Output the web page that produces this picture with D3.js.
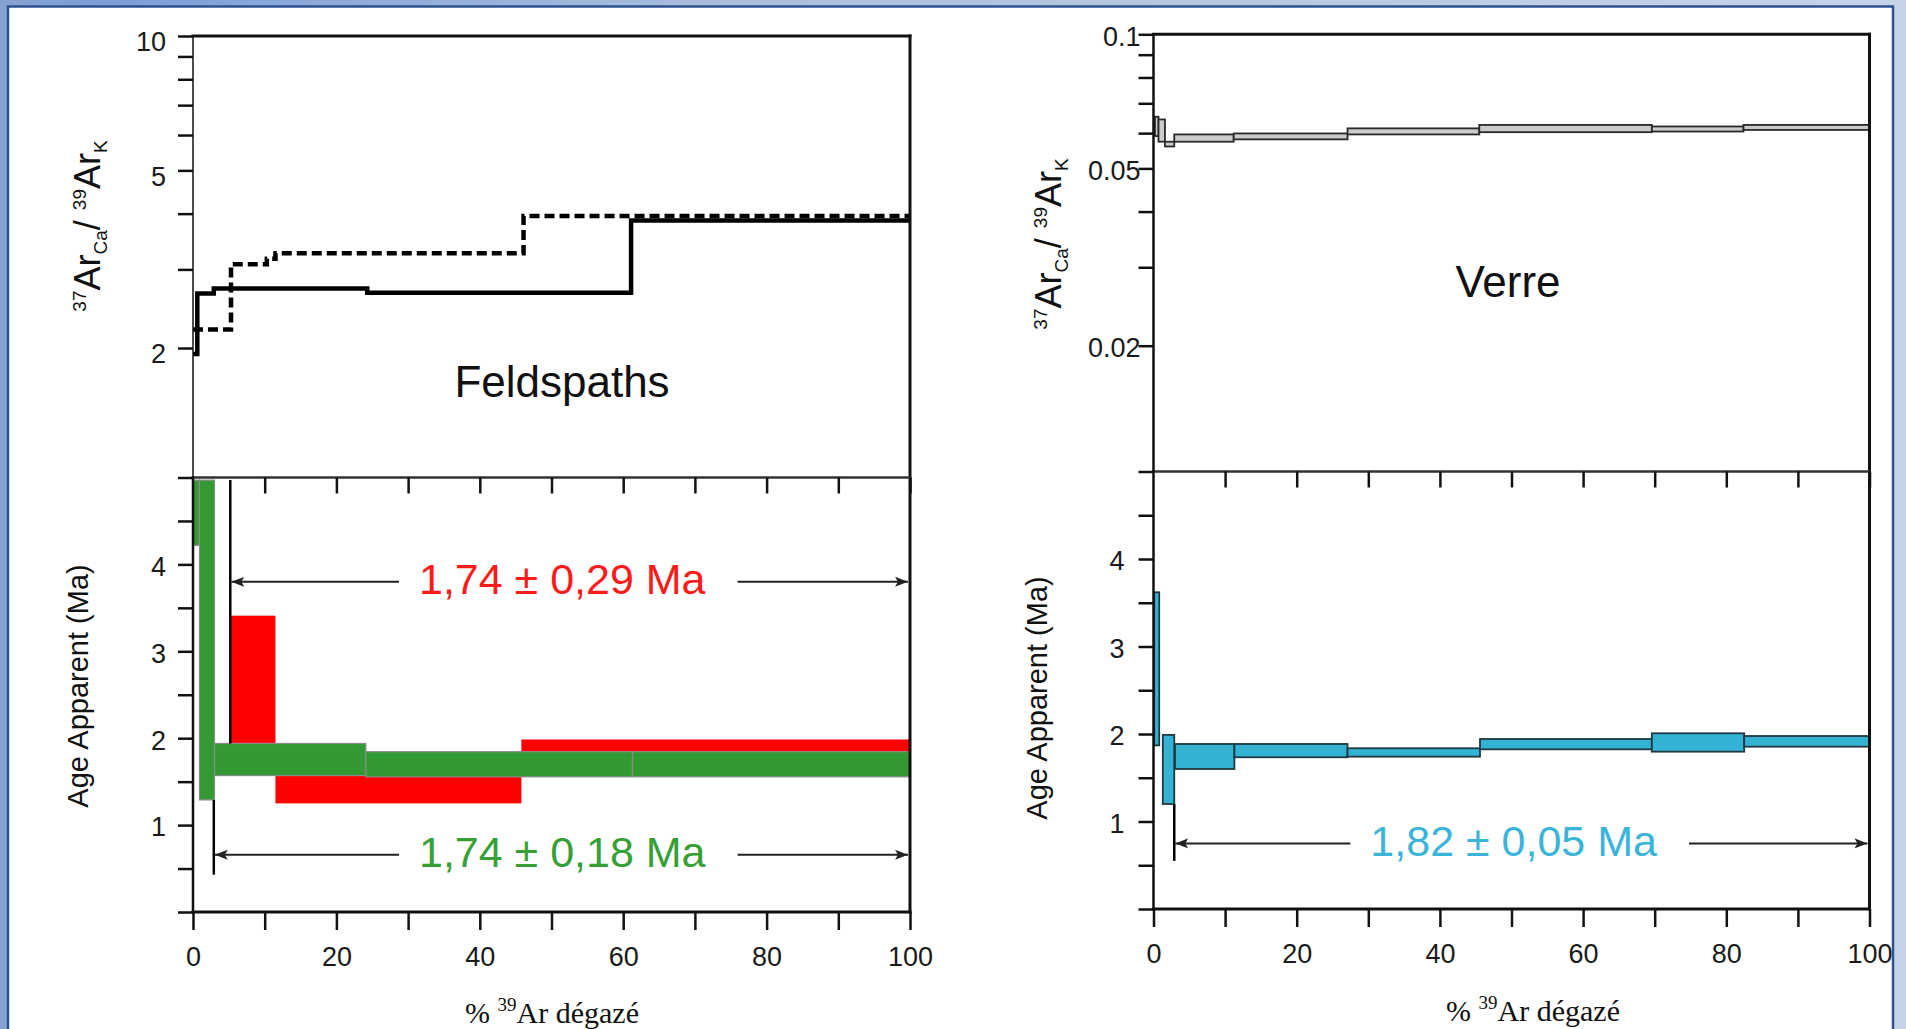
<!DOCTYPE html>
<html><head><meta charset="utf-8">
<script src="https://cdn.jsdelivr.net/npm/d3@7"></script>
<style>body{margin:0;overflow:hidden;background:#fff} svg{display:block}</style>
</head><body>
<svg id="chart" width="1906" height="1029"></svg>
<script>
// ---------------- DATA ----------------
const pctTicks = [0,10,20,30,40,50,60,70,80,90,100];
const pctTickLabels = [0,20,40,60,80,100];
const ageTicks = [0,0.5,1,1.5,2,2.5,3,3.5,4,4.5,5];
const ageTickLabels = [1,2,3,4];
const fspRatioTicks = [2,3,4,5,6,7,8,9,10];
const fspRatioTickLabels = [2,5,10];
const verRatioTicks = [0.02,0.03,0.04,0.05,0.06,0.07,0.08,0.09,0.1];
const verRatioTickLabels = [0.02,0.05,0.1];

// Feldspaths 37ArCa/39ArK step spectra (two aliquots)
const fspSolidEdges = [0,0.6,2.9,24.3,61.1,100];
const fspSolidRatio = [1.94,2.65,2.72,2.66,3.86];
const fspDashEdges = [0,5.3,10.3,11.5,46.1,100];
const fspDashRatio = [2.20,3.08,3.17,3.26,3.95];

// Feldspaths age spectra (red aliquot, green aliquot): step start/end (% 39Ar), age low/high (Ma)
const fspRedStart = [5.2,11.5,45.8];
const fspRedEnd   = [11.5,45.8,100];
const fspRedLow   = [1.70,1.25,1.65];
const fspRedHigh  = [3.41,1.75,1.985];
const fspGreenStart = [0,0.9,3.0,24.1,61.3];
const fspGreenEnd   = [0.9,3.0,24.1,61.3,100];
const fspGreenLow   = [4.22,1.29,1.57,1.555,1.555];
const fspGreenHigh  = [4.97,4.97,1.94,1.845,1.845];

// Verre 37ArCa/39ArK steps
const verRatioStart = [0.2,0.7,1.6,2.9,11.2,27.1,45.5,69.6,82.4];
const verRatioEnd   = [0.7,1.6,2.9,11.2,27.1,45.5,69.6,82.4,100];
const verRatioLow   = [0.0591,0.0574,0.0560,0.0574,0.0581,0.0596,0.0603,0.0605,0.0610];
const verRatioHigh  = [0.0653,0.0644,0.0574,0.0596,0.0599,0.0615,0.0626,0.0621,0.0626];

// Verre age spectrum
const verAgeStart = [0.1,1.3,3.0,11.3,27.1,45.6,69.6,82.5];
const verAgeEnd   = [0.8,2.9,11.3,27.1,45.6,69.6,82.5,100];
const verAgeLow   = [1.87,1.20,1.60,1.734,1.741,1.825,1.798,1.855];
const verAgeHigh  = [3.62,1.99,1.886,1.886,1.837,1.943,2.008,1.977];

// Plateaus
const plateauLabels   = ["1,74 ± 0,29 Ma","1,74 ± 0,18 Ma","1,82 ± 0,05 Ma"];
const plateauStart    = [5.2,2.9,2.9];
const plateauArrowAge = [3.80,0.66,0.75];
const plateauLineTop  = [4.97,1.29,1.20];
const plateauLineBot  = [1.94,0.43,0.55];

// ---------------- DRAWING ----------------
const W = 1906, H = 1029;
const svg = d3.select("#chart");
const SANS = "'Liberation Sans', Arial, Helvetica, sans-serif";
const SERIF = "'Liberation Serif', 'Times New Roman', serif";

const defs = svg.append("defs");
const grad = defs.append("linearGradient").attr("id","bg").attr("x1",0).attr("x2",1).attr("y1",0).attr("y2",0);
[["0","#86a2d0"],["0.06","#7c9fd8"],["0.4","#aebfdc"],["1","#c6d4ea"]].forEach(s =>
  grad.append("stop").attr("offset",s[0]).attr("stop-color",s[1]));
defs.append("marker").attr("id","arrow").attr("viewBox","0 -6 14 12")
  .attr("refX",13).attr("refY",0).attr("markerWidth",14).attr("markerHeight",12)
  .attr("markerUnits","userSpaceOnUse").attr("orient","auto")
  .append("path").attr("d","M0,-5L13,0L0,5L3,0Z").attr("fill","#222");

svg.append("rect").attr("width",W).attr("height",H).attr("fill","url(#bg)");
svg.append("rect").attr("x",8).attr("y",6.5).attr("width",1885).attr("height",1040)
  .attr("fill","#fff").attr("stroke","#2c5390").attr("stroke-width",2.5);

function panel(o) {
  const g = svg.append("g");
  const x = d3.scaleLinear().domain([0,100]).range([o.x0,o.x1]);
  const yA = d3.scaleLinear().domain([0,5]).range([o.ageBottom,o.ageTop]);
  const yR = d3.scaleLog().domain(o.ratioDomain).range([o.ratioBottom,o.ratioTop]);

  o.drawRatio(g, x, yR);
  o.drawAge(g, x, yA);

  const line = (x1,y1,x2,y2,w,c) => g.append("line").attr("x1",x1).attr("y1",y1).attr("x2",x2).attr("y2",y2)
      .attr("stroke",c||"#111").attr("stroke-width",w).attr("stroke-linecap","square");
  line(o.x0,o.ratioTop,o.x1,o.ratioTop,3);
  line(o.x1,o.ratioTop,o.x1,o.ageBottom,3);
  line(o.x0,o.ratioTop,o.x0,o.ageTop,o.ratioAxisW);
  line(o.x0,o.ageTop,o.x1,o.ageTop,2.5,"#333");
  line(o.x0,o.ageTop,o.x0,o.ageBottom,2.5);
  line(o.x0,o.ageBottom,o.x1,o.ageBottom,3);

  const styleAxis = (sel, w) => {
    sel.select(".domain").remove();
    sel.selectAll(".tick line").attr("stroke","#111").attr("stroke-width",w);
    sel.selectAll(".tick text").attr("fill","#1a1a1a").style("font-family",SANS).style("font-size","27px");
  };

  const ra = g.append("g").attr("transform",`translate(${o.x0},0)`)
    .call(d3.axisLeft(yR).tickValues(o.ratioTicks).tickSize(15).tickPadding(o.ratioPad)
      .tickFormat(d => o.ratioLabels.includes(d) ? String(d) : ""));
  styleAxis(ra, 2.5);
  ra.selectAll(".tick text").attr("dy", o.ratioDy);

  const aa = g.append("g").attr("transform",`translate(${o.x0},0)`)
    .call(d3.axisLeft(yA).tickValues(ageTicks).tickSize(15).tickPadding(o.agePad)
      .tickFormat(d => ageTickLabels.includes(d) ? String(d) : ""));
  styleAxis(aa, 2.5);
  aa.selectAll(".tick text").attr("dy","0.4em");

  const ba = g.append("g").attr("transform",`translate(0,${o.ageBottom})`)
    .call(d3.axisBottom(x).tickValues(pctTicks).tickSize(18).tickPadding(17)
      .tickFormat(d => pctTickLabels.includes(d) ? String(d) : ""));
  styleAxis(ba, 2.5);

  const ta = g.append("g").attr("transform",`translate(0,${o.ageTop})`)
    .call(d3.axisBottom(x).tickValues(pctTicks.filter(d => d > 0)).tickSize(16).tickFormat(""));
  styleAxis(ta, 2.5);

  const xt = g.append("text").attr("x",o.xTitleX).attr("y",o.xTitleY).attr("text-anchor","middle")
    .style("font-family",SERIF).style("font-size","30px").attr("fill","#111");
  xt.append("tspan").text("% ");
  xt.append("tspan").attr("dy",-12).style("font-size","19px").text("39");
  xt.append("tspan").attr("dy",12).text("Ar dégazé");

  g.append("text").attr("transform",`translate(${o.ageTitleX},${o.ageTitleY}) rotate(-90)`)
    .attr("text-anchor","middle").style("font-family",SANS).style("font-size","29px").attr("fill","#111")
    .text("Age Apparent (Ma)");

  const rt = g.append("text").attr("transform",`translate(${o.ratioTitleX},${o.ratioTitleY}) rotate(-90)`)
    .attr("text-anchor","middle").style("font-family",SANS).style("font-size","36px").attr("fill","#111");
  rt.append("tspan").attr("dy",-14).style("font-size","19px").text("37");
  rt.append("tspan").attr("dy",14).text("Ar");
  rt.append("tspan").attr("dy",7).style("font-size","19px").text("Ca");
  rt.append("tspan").attr("dy",-7).text("/ ");
  rt.append("tspan").attr("dy",-14).style("font-size","19px").text("39");
  rt.append("tspan").attr("dy",14).text("Ar");
  rt.append("tspan").attr("dy",7).style("font-size","19px").text("K");

  g.append("text").attr("x",o.nameX).attr("y",o.nameY).attr("text-anchor","middle")
    .style("font-family",SANS).style("font-size","44px").attr("fill","#111").text(o.name);

  return {x, yA, yR, g};
}

function boxes(g, x, y, start, end, low, high, fill, stroke, sw) {
  g.append("g").selectAll("rect").data(start.map((s,i) => ({s, e:end[i], lo:low[i], hi:high[i]})))
    .join("rect")
    .attr("x", d => x(d.s)).attr("width", d => x(d.e) - x(d.s))
    .attr("y", d => y(d.hi)).attr("height", d => y(d.lo) - y(d.hi))
    .attr("fill", fill).attr("stroke", stroke || "none").attr("stroke-width", sw || 0);
}

function stepLine(g, x, y, edges, vals, dash) {
  const pts = vals.map((v,i) => [edges[i], v]).concat([[edges[edges.length-1], vals[vals.length-1]]]);
  g.append("path").datum(pts)
    .attr("d", d3.line().x(d => x(d[0])).y(d => y(d[1])).curve(d3.curveStepAfter))
    .attr("fill","none").attr("stroke","#000").attr("stroke-width",4.5)
    .attr("stroke-dasharray", dash || null).attr("stroke-linejoin","miter");
}

function plateau(g, x, y, i, color, textPct, textBase) {
  const ax = x(plateauStart[i]);
  g.append("line").attr("x1",ax).attr("x2",ax).attr("y1",y(plateauLineTop[i])).attr("y2",y(plateauLineBot[i]))
    .attr("stroke","#000").attr("stroke-width",2.5);
  const t = g.append("text").attr("x",x(textPct)).attr("y",textBase).attr("text-anchor","middle")
    .style("font-family",SANS).style("font-size","43px").attr("fill",color).text(plateauLabels[i]);
  const bb = t.node().getBBox();
  const ay = y(plateauArrowAge[i]);
  g.append("line").attr("x1",bb.x - 20).attr("x2",ax + 1).attr("y1",ay).attr("y2",ay)
    .attr("stroke","#222").attr("stroke-width",2).attr("marker-end","url(#arrow)");
  g.append("line").attr("x1",bb.x + bb.width + 32).attr("x2",x(100) - 2).attr("y1",ay).attr("y2",ay)
    .attr("stroke","#222").attr("stroke-width",2).attr("marker-end","url(#arrow)");
}

// Left panel: Feldspaths
panel({
  x0:193, x1:910, ratioTop:36, ratioBottom:482.4, ageTop:477.5, ageBottom:912,
  ratioDomain:[1,10], ratioTicks:fspRatioTicks, ratioLabels:fspRatioTickLabels, ratioPad:12, ratioDy:"0.55em",
  ratioAxisW:1.5, agePad:12,
  xTitleX:552, xTitleY:1023, ageTitleX:88, ageTitleY:686, ratioTitleX:100, ratioTitleY:226,
  name:"Feldspaths", nameX:562, nameY:397,
  drawRatio:(g,x,y) => {
    stepLine(g,x,y,fspSolidEdges,fspSolidRatio,null);
    stepLine(g,x,y,fspDashEdges,fspDashRatio,"10,5");
  },
  drawAge:(g,x,y) => {
    boxes(g,x,y,fspRedStart,fspRedEnd,fspRedLow,fspRedHigh,"#ff0000");
    boxes(g,x,y,fspGreenStart,fspGreenEnd,fspGreenLow,fspGreenHigh,"#339a33","#8c8c8c",1.2);
    plateau(g,x,y,0,"#ff1a1a",51.5,594);
    plateau(g,x,y,1,"#36a036",51.5,867);
  }
});

// Right panel: Verre
panel({
  x0:1153.5, x1:1869.5, ratioTop:34.3, ratioBottom:479.8, ageTop:471.5, ageBottom:909,
  ratioDomain:[0.01,0.1], ratioTicks:verRatioTicks, ratioLabels:verRatioTickLabels, ratioPad:-2, ratioDy:"0.4em",
  ratioAxisW:2.5, agePad:14,
  xTitleX:1533, xTitleY:1021, ageTitleX:1047, ageTitleY:698, ratioTitleX:1061, ratioTitleY:244,
  name:"Verre", nameX:1508, nameY:297,
  drawRatio:(g,x,y) => {
    boxes(g,x,y,verRatioStart,verRatioEnd,verRatioLow,verRatioHigh,"#cbcbcb","#2a2a2a",1.8);
  },
  drawAge:(g,x,y) => {
    boxes(g,x,y,verAgeStart,verAgeEnd,verAgeLow,verAgeHigh,"#33b2d4","#1e3a40",1.8);
    plateau(g,x,y,2,"#3ab4d8",50.3,856);
  }
});
</script>
</body></html>
